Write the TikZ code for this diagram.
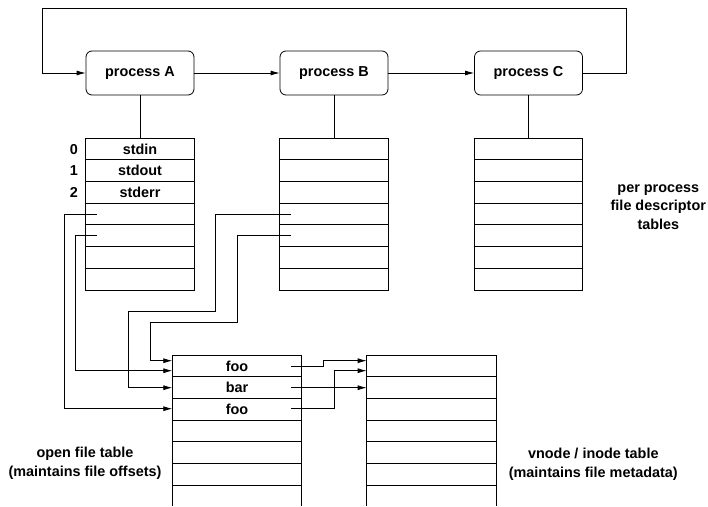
\documentclass[tikz,border=0pt]{standalone}
\usepackage{fontspec}
\setmainfont{Liberation Sans}
\usetikzlibrary{arrows.meta}
\begin{document}
\begin{tikzpicture}[x=1pt,y=-1pt,line width=0.8pt,
  font=\fontsize{14.4}{18.5}\selectfont\bfseries,
  proc/.style={draw,rounded corners=6pt,minimum width=108pt,minimum height=44pt,inner sep=0pt},
  tbl/.style={draw,minimum width=108.6pt,minimum height=151.7pt,inner sep=0pt},
  arr/.style={-{Latex[length=9pt,width=5pt]}},
  lbl/.style={align=center,inner sep=0pt}]
\useasboundingbox (0,0) rectangle (708,506);
\def\h{21.67}
% processes
\node[proc] (pA) at (140,73) {process A};
\node[proc] (pB) at (334,73) {process B};
\node[proc] (pC) at (528.5,73) {process C};
\draw[arr] (pA) -- (pB);
\draw[arr] (pB) -- (pC);
\draw[arr] (pC.east) -- (626,73) -- (626,8) -- (42,8) -- (42,73) -- (pA.west);
% fd tables
\node[tbl] (tA) at (140,214.15) {};
\node[tbl] (tB) at (334,214.15) {};
\node[tbl] (tC) at (528.5,214.15) {};
\foreach \t in {tA,tB,tC}{
  \foreach \i in {1,...,6}{
    \draw (\t.north west) ++(0,\i*\h) -- ++(108.6,0);
  }
}
\draw (pA) -- (tA);
\draw (pB) -- (tB);
\draw (pC) -- (tC);
\node[lbl] (s0) at (140,149.1) {stdin};
\node[lbl] (s1) at (140,170.8) {stdout};
\node[lbl] (s2) at (140,192.5) {stderr};
\node[lbl] (n0) at (74,149.1) {0};
\node[lbl] (n1) at (74,170.8) {1};
\node[lbl] (n2) at (74,192.5) {2};
% open file table
\draw (172.3,506) -- (172.3,355) -- (301.7,355) -- (301.7,506);
\foreach \i in {1,...,6}{\draw (172.3,355+\i*\h) -- (301.7,355+\i*\h);}
\node[lbl] (f1) at (237,365.9) {foo};
\node[lbl] (f2) at (237,387.5) {bar};
\node[lbl] (f3) at (237,409.2) {foo};
% vnode table
\draw (366.7,506) -- (366.7,355) -- (496,355) -- (496,506);
\foreach \i in {1,...,6}{\draw (366.7,355+\i*\h) -- (496,355+\i*\h);}
% connector coordinates
\coordinate (a4) at (96.7,214.2);
\coordinate (a5) at (96.7,235.8);
\coordinate (b4) at (290.7,214.2);
\coordinate (b5) at (290.7,235.8);
\coordinate (of1a) at (172.3,360.7);
\coordinate (of1b) at (172.3,370.7);
\coordinate (of2) at (172.3,387.7);
\coordinate (of3) at (172.3,408.7);
\coordinate (o1) at (291,365.9);
\coordinate (o2) at (291,387.7);
\coordinate (o3) at (291,408.7);
\coordinate (vn1a) at (366.7,360.7);
\coordinate (vn1b) at (366.7,370.7);
\coordinate (vn2) at (366.7,387.7);
\draw[arr] (a4) -- (64,214.2) |- (of3);
\draw[arr] (a5) -- (75,235.8) |- (of1b);
\draw[arr] (b4) -- (215.7,214.2) -- (215.7,311.7) -- (128.3,311.7) |- (of2);
\draw[arr] (b5) -- (237.3,235.8) -- (237.3,322.3) -- (150.7,322.3) |- (of1a);
\draw[arr] (o1) -- (323.3,365.9) |- (vn1a);
\draw[arr] (o2) -- (vn2);
\draw[arr] (o3) -- (334,408.7) |- (vn1b);
% labels
\node[lbl] (L1) at (658.3,207) {per process\\file descriptor\\tables};
\node[lbl] (L2) at (85,463.5) {open file table\\(maintains file offsets)};
\node[lbl] (L3) at (593.3,464.5) {vnode / inode table\\(maintains file metadata)};
\end{tikzpicture}
\end{document}
